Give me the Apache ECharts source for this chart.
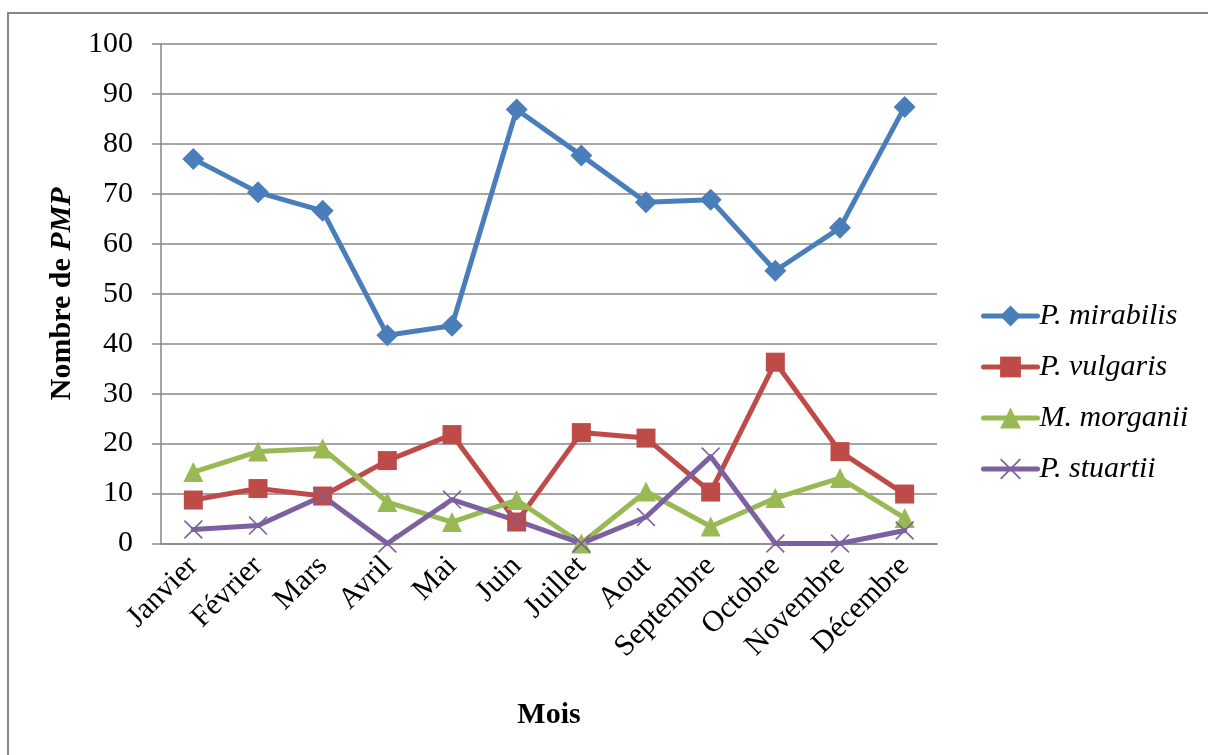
<!DOCTYPE html>
<html>
<head>
<meta charset="utf-8">
<style>
  html, body { margin: 0; padding: 0; background: #ffffff; }
  #chart { width: 1208px; height: 755px; }
</style>
<script src="https://cdn.jsdelivr.net/npm/echarts@6/dist/echarts.min.js"></script>
</head>
<body>
<div id="chart"></div>
<script>
// Monthly counts of PMP isolates per species
const months = ['Janvier', 'Février', 'Mars', 'Avril', 'Mai', 'Juin', 'Juillet', 'Aout', 'Septembre', 'Octobre', 'Novembre', 'Décembre'];
const mirabilis = [77, 70.3, 66.6, 41.7, 43.6, 86.9, 77.7, 68.3, 68.8, 54.6, 63.2, 87.4];
const vulgaris  = [8.7, 11, 9.5, 16.6, 21.8, 4.3, 22.2, 21.1, 10.3, 36.3, 18.4, 9.9];
const morganii  = [14.3, 18.4, 19, 8.3, 4.3, 8.7, 0, 10.4, 3.4, 9.1, 13.1, 5.1];
const stuartii  = [2.8, 3.6, 9.5, 0, 8.8, 4.6, 0, 5.3, 17.4, 0, 0, 2.6];
const seriesNames = ['P. mirabilis', 'P. vulgaris', 'M. morganii', 'P. stuartii'];

const FONT = 'Liberation Serif';
const GRID_GRAY = '#878787';
// thin "x" marker shape
const CROSS = 'path://M0,6 L6,0 L50,44 L94,0 L100,6 L56,50 L100,94 L94,100 L50,56 L6,100 L0,94 L44,50 Z';

function lineSeries(name, data, color, symbol, size) {
  return {
    name: name,
    type: 'line',
    data: data,
    symbol: symbol,
    symbolSize: size,
    showAllSymbol: true,
    lineStyle: { color: color, width: 5, cap: 'round', join: 'round' },
    itemStyle: { color: color },
    emphasis: { disabled: true }
  };
}

const chart = echarts.init(document.getElementById('chart'), null, { renderer: 'canvas' });
chart.setOption({
  animation: false,
  backgroundColor: '#ffffff',
  textStyle: { fontFamily: FONT },
  graphic: [{
    type: 'rect',
    shape: { x: 8, y: 13, width: 1400, height: 900 },
    style: { fill: 'none', stroke: GRID_GRAY, lineWidth: 2 },
    silent: true
  }],
  grid: { left: 161, right: 271, top: 44, bottom: 211.5, containLabel: false },
  legend: {
    orient: 'vertical',
    left: 976,
    top: 296,
    itemWidth: 54,
    itemHeight: 26,
    itemGap: 21,
    data: seriesNames,
    lineStyle: { width: 5, cap: 'round' },
    textStyle: { fontFamily: FONT, fontSize: 30, fontStyle: 'italic', color: '#000', padding: [0, 0, 0, -3] }
  },
  xAxis: {
    type: 'category',
    data: months,
    boundaryGap: true,
    name: 'Mois',
    nameLocation: 'middle',
    nameGap: 157,
    nameTextStyle: { fontFamily: FONT, fontSize: 30, fontWeight: 'bold', color: '#000' },
    axisLine: { lineStyle: { color: GRID_GRAY, width: 1.5 } },
    axisTick: { show: false },
    axisLabel: { rotate: 45, margin: 18, interval: 0, fontFamily: FONT, fontSize: 30, color: '#000' }
  },
  yAxis: {
    type: 'value',
    min: 0,
    max: 100,
    interval: 10,
    name: 'Nombre de {i|PMP}',
    nameLocation: 'middle',
    nameGap: 84,
    nameTextStyle: {
      fontFamily: FONT, fontSize: 30, fontWeight: 'bold', color: '#000',
      rich: { i: { fontFamily: FONT, fontSize: 30, fontWeight: 'bold', fontStyle: 'italic', color: '#000' } }
    },
    axisLine: { show: true, lineStyle: { color: GRID_GRAY, width: 1.5 } },
    axisTick: { show: true, inside: false, length: 9, lineStyle: { color: GRID_GRAY, width: 1.5 } },
    axisLabel: { margin: 28, fontFamily: FONT, fontSize: 30, color: '#000' },
    splitLine: { show: true, lineStyle: { color: GRID_GRAY, width: 1.5 } }
  },
  series: [
    lineSeries(seriesNames[0], mirabilis, '#4A7EBB', 'diamond', 22),
    lineSeries(seriesNames[1], vulgaris, '#BE4B48', 'rect', 19),
    lineSeries(seriesNames[2], morganii, '#98B954', 'triangle', 20),
    lineSeries(seriesNames[3], stuartii, '#7D60A0', CROSS, 19)
  ]
});
</script>
</body>
</html>
